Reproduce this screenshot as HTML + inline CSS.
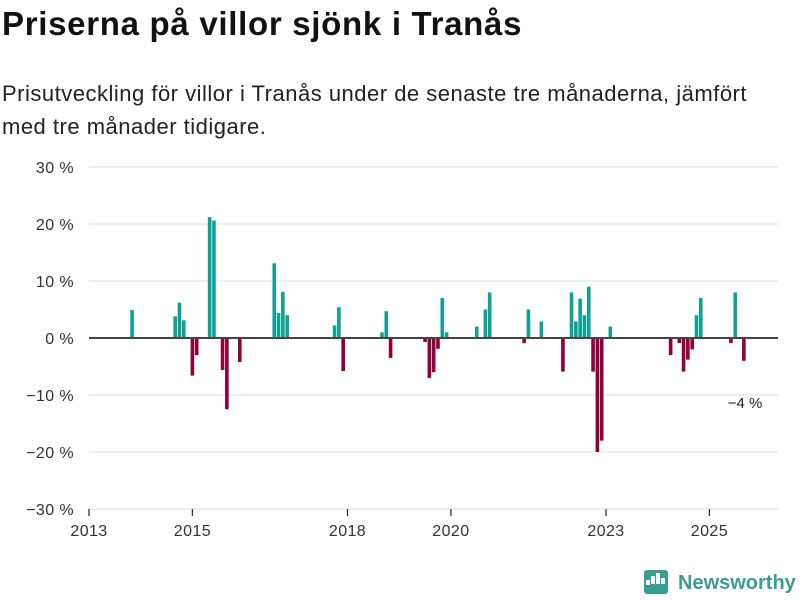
<!DOCTYPE html>
<html><head><meta charset="utf-8"><style>
body{margin:0;background:#fff;font-family:"Liberation Sans",sans-serif;}
#wrap{position:relative;width:800px;height:600px;overflow:hidden;}
h1{position:absolute;left:2px;top:5px;margin:0;font-size:33px;font-weight:bold;color:#111;letter-spacing:0.7px}
p{position:absolute;left:2px;top:77px;margin:0;font-size:22px;line-height:33px;color:#222;width:780px;letter-spacing:0.5px}
svg{position:absolute;left:0;top:0}
</style></head><body><div id="wrap">
<h1>Priserna på villor sjönk i Tranås</h1>
<p>Prisutveckling för villor i Tranås under de senaste tre månaderna, jämfört med tre månader tidigare.</p>
<svg id="c" width="800" height="600"></svg>
</div>
<script>
const months=["2013-11","2014-09","2014-10","2014-11","2015-01","2015-02","2015-05","2015-06","2015-08","2015-09","2015-12","2016-08","2016-09","2016-10","2016-11","2017-10","2017-11","2017-12","2018-09","2018-10","2018-11","2019-07","2019-08","2019-09","2019-10","2019-11","2019-12","2020-07","2020-09","2020-10","2021-06","2021-07","2021-10","2022-03","2022-05","2022-06","2022-07","2022-08","2022-09","2022-10","2022-11","2022-12","2023-02","2024-04","2024-06","2024-07","2024-08","2024-09","2024-10","2024-11","2025-06","2025-07","2025-09"];
const values=[4.9,3.8,6.2,3.1,-6.6,-3,21.2,20.6,-5.6,-12.5,-4.2,13.1,4.4,8.1,4.0,2.2,5.4,-5.8,1.0,4.7,-3.5,-0.7,-7.0,-6.0,-1.9,7.0,1.0,2.0,5.0,8.0,-0.9,5.0,2.9,-5.9,8.0,2.9,6.9,4.0,9.0,-5.9,-20,-18,2.0,-3.0,-0.9,-5.9,-3.8,-2.0,4.0,7.0,-0.9,8.0,-4.0];
const yTicks=[30,20,10,0,-10,-20,-30];
const xTickYears=[2013,2015,2018,2020,2023,2025];
const NS="http://www.w3.org/2000/svg",svg=document.getElementById('c');
const y=v=>338-v*5.7;
const x=t=>89+(t-2013)*51.7;
function mk(tag,a,txt){const e=document.createElementNS(NS,tag);for(const k in a)e.setAttribute(k,a[k]);if(txt!=null)e.textContent=txt;svg.appendChild(e);return e;}
yTicks.forEach(v=>{
 if(v!==0){const g=mk('line',{x1:89,x2:778,y1:y(v),y2:y(v),stroke:'#ddd','stroke-width':1});
 
 }
 const t=mk('text',{x:74,y:y(v)+6,'text-anchor':'end','font-size':16,fill:'#333','letter-spacing':0.4},(v<0?'−'+(-v):v)+' %');
 
 
});
xTickYears.forEach(yr=>{
 const l=mk('line',{x1:x(yr),x2:x(yr),y1:509,y2:516,stroke:'#333','stroke-width':1.3});
 
 
 const t=mk('text',{x:x(yr),y:536,'text-anchor':'middle','font-size':16,fill:'#333','letter-spacing':0.4},yr);
 
 
});
months.forEach((m,i)=>{
 const [yy,mm]=m.split('-').map(Number);
 const cx=x(yy+(mm-1)/12);const v=values[i];
 const r=mk('rect',{x:cx-1.8,y:Math.min(y(v),y(0)),width:3.6,height:Math.abs(y(v)-y(0)),fill:v>=0?'#10a195':'#91003a'});
 
 
});
const z=mk('line',{x1:89,x2:778,y1:338,y2:338,stroke:'#444','stroke-width':2});


const lv=values[values.length-1];
const lab=mk('text',{x:745,y:y(lv)+47,'text-anchor':'middle','font-size':15,fill:'#222'},(lv<0?'−'+(-lv):lv)+' %');


const lg=mk('g',{});


[[646,582,5],[651,578,8],[656,575,11],[661,580,6]].forEach(b=>{const r=document.createElementNS(NS,'rect');r.setAttribute('x',b[0]);r.setAttribute('y',b[1]-2);r.setAttribute('width',4);r.setAttribute('height',b[2]);r.setAttribute('fill','#fff');lg.appendChild(r);});
const bg=document.createElementNS(NS,'rect');bg.setAttribute('x',644);bg.setAttribute('y',570);bg.setAttribute('width',24);bg.setAttribute('height',24);bg.setAttribute('rx',3);bg.setAttribute('fill','#3a9d92');lg.insertBefore(bg,lg.firstChild);
const lt=document.createElementNS(NS,'text');lt.setAttribute('x',678);lt.setAttribute('y',589);lt.setAttribute('font-size',20);lt.setAttribute('font-weight','bold');lt.setAttribute('fill','#3a9d92');lt.textContent='Newsworthy';lg.appendChild(lt);
</script></body></html>
